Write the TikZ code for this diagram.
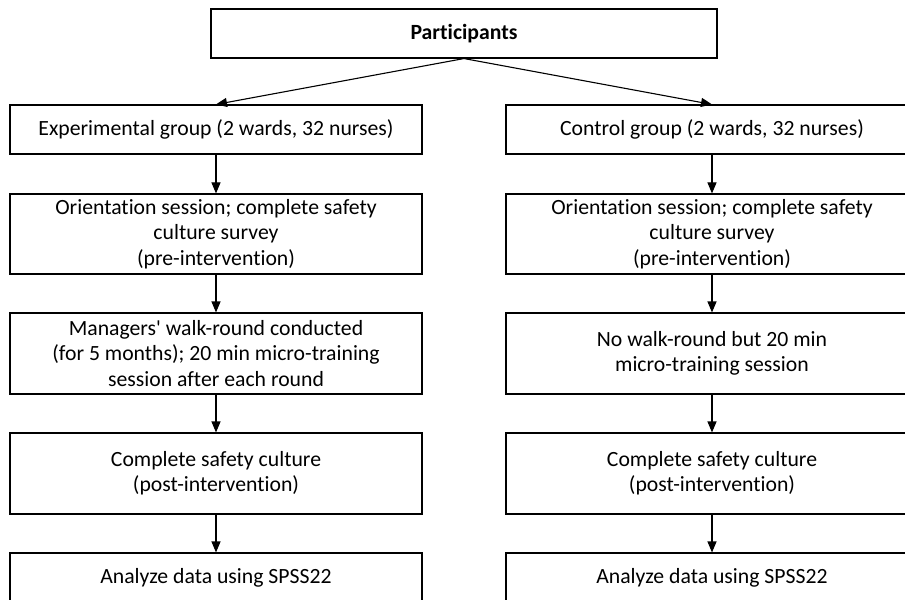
\documentclass[tikz,border=0pt]{standalone}
\usepackage{fontspec}
\setmainfont{Carlito}[Ligatures={TeX,NoCommon}]
\usetikzlibrary{arrows.meta}

\begin{document}
\begin{tikzpicture}[x=1bp,y=-1bp,
  caixa/.style={draw, line width=1.1bp, minimum width=412bp, align=center,
    inner sep=0pt, font=\fontsize{21.8}{25.5}\selectfont},
  seta/.style={-{Triangle[length=11bp,width=9bp]}, line width=1.1bp}]
        \useasboundingbox (0,0) rectangle (905,600);
        % Participantes
        \node[caixa, minimum width=506bp, minimum height=49bp, font=\bfseries\fontsize{21.8}{25.5}\selectfont] (part) at (464,33.5) {Participants};
        % Grupo experimental
        \node[caixa, minimum height=49bp] (exp) at (216,129.5) {Experimental group (2 wards, 32 nurses)};
        \node[caixa, minimum height=80bp] (expOri) at (216,234) {Orientation session; complete safety\\culture survey\\(pre-intervention)};
        \node[caixa, minimum height=81bp] (expWalk) at (216,353.5) {Managers\textquotesingle{} walk-round conducted\\(for 5 months); 20 min micro-training\\session after each round};
        \node[caixa, minimum height=81bp] (expPost) at (216,473.5) {Complete safety culture\\(post-intervention)};
        \node[caixa, minimum height=49bp] (expSpss) at (216,577.5) {Analyze data using SPSS22};
        % Grupo controle
        \node[caixa, minimum height=49bp] (ctl) at (712,129.5) {Control group (2 wards, 32 nurses)};
        \node[caixa, minimum height=80bp] (ctlOri) at (712,234) {Orientation session; complete safety\\culture survey\\(pre-intervention)};
        \node[caixa, minimum height=81bp] (ctlWalk) at (712,353.5) {No walk-round but 20 min\\micro-training session};
        \node[caixa, minimum height=81bp] (ctlPost) at (712,473.5) {Complete safety culture\\(post-intervention)};
        \node[caixa, minimum height=49bp] (ctlSpss) at (712,577.5) {Analyze data using SPSS22};
        % Setas
        \draw[seta] (part.south) -- (exp.north);
        \draw[seta] (part.south) -- (ctl.north);
        \draw[seta] (exp) -- (expOri);
        \draw[seta] (expOri) -- (expWalk);
        \draw[seta] (expWalk) -- (expPost);
        \draw[seta] (expPost) -- (expSpss);
        \draw[seta] (ctl) -- (ctlOri);
        \draw[seta] (ctlOri) -- (ctlWalk);
        \draw[seta] (ctlWalk) -- (ctlPost);
        \draw[seta] (ctlPost) -- (ctlSpss);
    \end{tikzpicture}
\end{document}
